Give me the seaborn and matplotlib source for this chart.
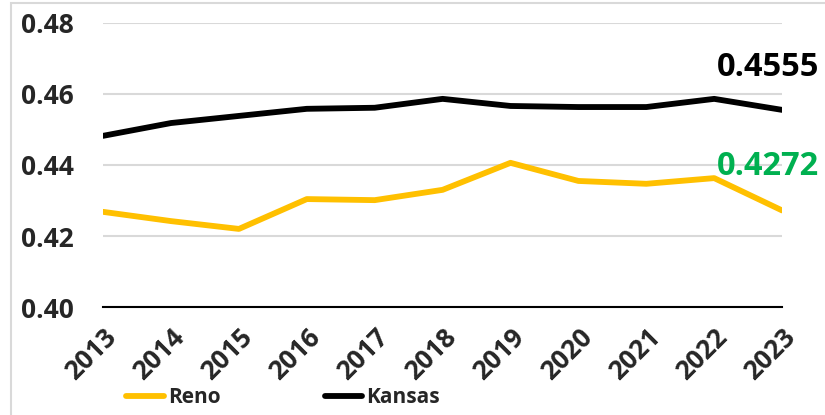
import matplotlib
matplotlib.use("Agg")
import matplotlib.pyplot as plt
import seaborn as sns
import pandas as pd
from matplotlib.patches import Rectangle
from matplotlib.lines import Line2D

years = [2013, 2014, 2015, 2016, 2017, 2018, 2019, 2020, 2021, 2022, 2023]
reno = [0.4268, 0.4242, 0.4220, 0.4304, 0.4301, 0.4330, 0.4406, 0.4355, 0.4347, 0.4363, 0.4272]
kansas = [0.4482, 0.4518, 0.4538, 0.4558, 0.4561, 0.4586, 0.4566, 0.4563, 0.4563, 0.4586, 0.4555]
y_ticks = [0.40, 0.42, 0.44, 0.46, 0.48]

df = pd.DataFrame({"Year": years * 2,
                   "Value": reno + kansas,
                   "Series": ["Reno"] * len(years) + ["Kansas"] * len(years)})

sns.set_style("white")
FAM = ['Open Sans', 'DejaVu Sans']
plt.rcParams['font.family'] = FAM

fig = plt.figure(figsize=(8.25, 4.15), dpi=100)
ax = fig.add_axes([0.125, 0.26, 0.823, 0.685])

sns.lineplot(data=df, x="Year", y="Value", hue="Series",
             palette={"Reno": "#FFC000", "Kansas": "#000000"},
             linewidth=4.2, ax=ax, legend=False)

ax.set_xlim(years[0], years[-1])
ax.set_ylim(0.40, 0.48)
ax.set_yticks(y_ticks)
ax.set_yticklabels([f"{v:.2f}" for v in y_ticks], fontsize=19, fontweight="bold")
ax.set_xticks(years)
ax.set_xticklabels([str(y) for y in years], rotation=45, ha="right",
                   rotation_mode="anchor", fontsize=19, fontweight="bold")
ax.tick_params(axis="x", direction="out", length=8, width=1.5, color="black", pad=4)
ax.tick_params(axis="y", length=0, pad=21)
ax.set_xlabel("")
ax.set_ylabel("")
ax.yaxis.grid(True, color="#d9d9d9", linewidth=1.5)
ax.set_axisbelow(True)
for s in ["top", "right", "left"]:
    ax.spines[s].set_visible(False)
ax.spines["bottom"].set_color("black")
ax.spines["bottom"].set_linewidth(1.5)

ax.annotate("0.4555", xy=(years[-1], kansas[-1]), xytext=(819, 415 - 67),
            textcoords="figure pixels", fontsize=23.5, fontweight="bold", color="black",
            ha="right", va="center")
ax.annotate("0.4272", xy=(years[-1], reno[-1]), xytext=(819, 415 - 166),
            textcoords="figure pixels", fontsize=23.5, fontweight="bold", color="#00B050",
            ha="right", va="center")

handles = [Line2D([], [], color="#FFC000", linewidth=4.2),
           Line2D([], [], color="#000000", linewidth=4.2)]
fig.legend(handles, ["Reno", "Kansas"], loc="center", bbox_to_anchor=(0.343, 0.041),
           ncol=2, frameon=False, handlelength=1.8, handletextpad=0.2,
           columnspacing=5.0, prop={"weight": "bold", "size": 15})

fig.patches.append(Rectangle((11 / 825, -0.1), 1.2, 1.1 - 3 / 415, transform=fig.transFigure,
                             fill=False, edgecolor="#d9d9d9", linewidth=1.5))

fig.savefig("out.png", dpi=100)
